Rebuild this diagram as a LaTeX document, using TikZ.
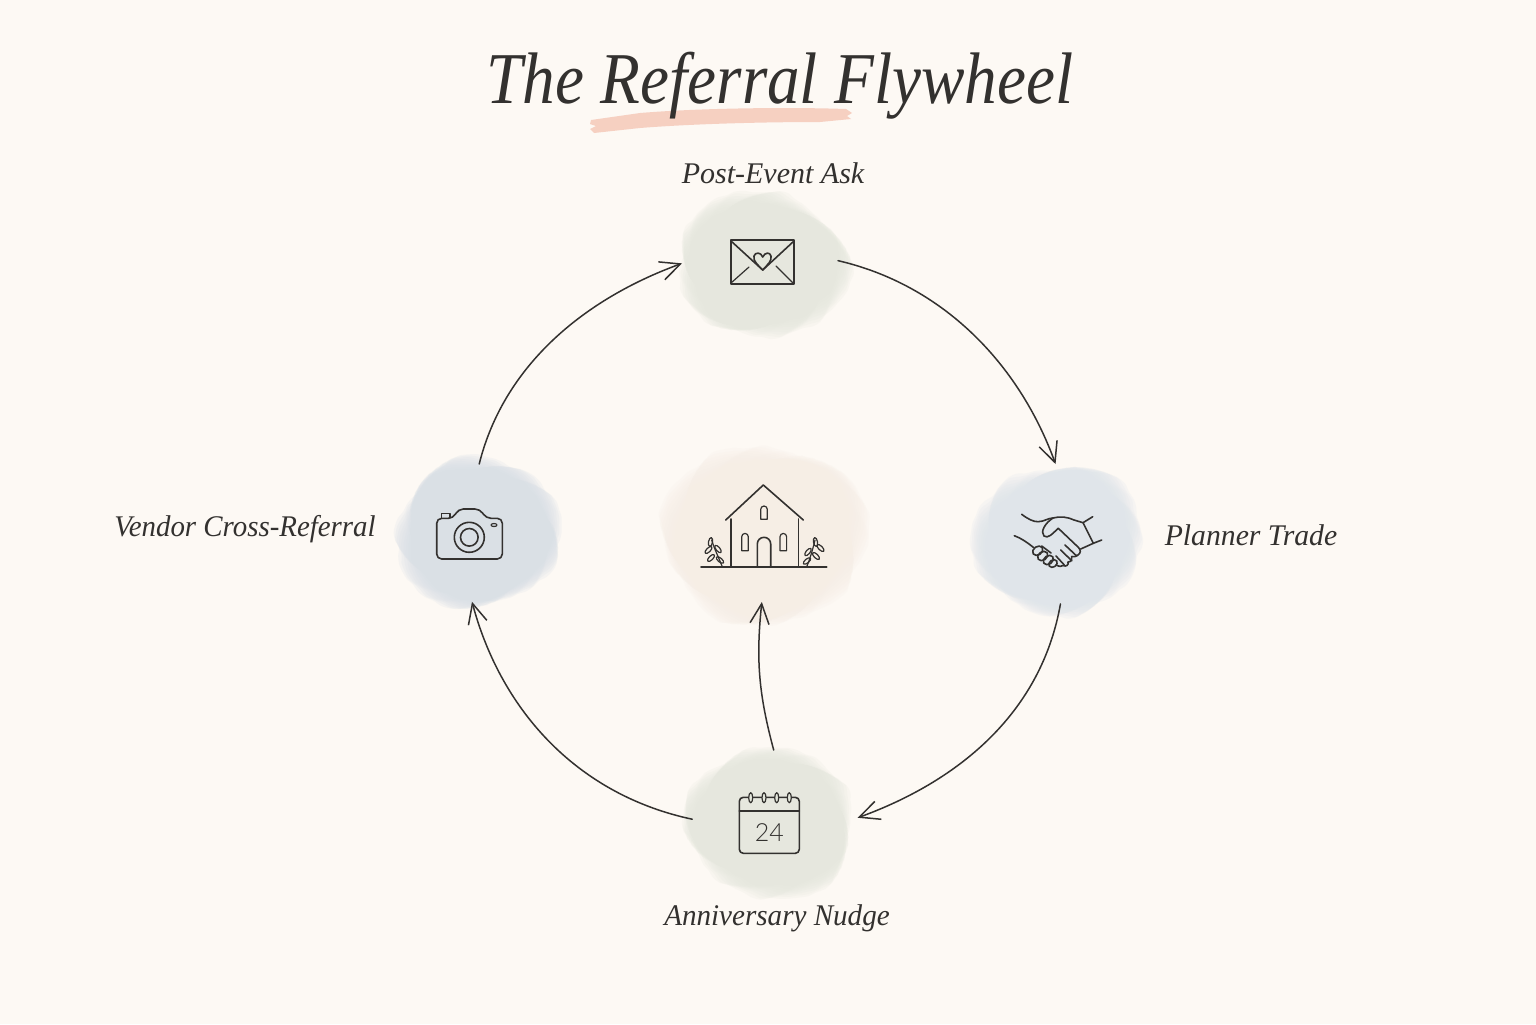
\documentclass[tikz,border=0pt]{standalone}
\usepackage{fontspec}
\usepackage{graphicx}
\setmainfont{Liberation Serif}
\newfontfamily\digitfont{Lato Light}
\usetikzlibrary{arrows.meta,shapes.geometric}
\definecolor{paper}{HTML}{FDF9F4}
\definecolor{ink}{HTML}{33312F}
\definecolor{sage}{HTML}{E4E7DC}
\definecolor{mist}{HTML}{D6DEE5}
\definecolor{mistb}{HTML}{DDE4EA}
\definecolor{blush}{HTML}{F6EEE5}
\definecolor{brush}{HTML}{F5C9B9}
\tikzset{
  declare function={wob(\t,\l,\p)=(1-.016*\l)*(1+.035*sin(2*\t+\p+\l*12)+.035*sin(3*\t+2*\p+\l*9)+.025*sin(5*\t+3*\p+\l*20)+.018*sin(9*\t+\p+\l*35)+.012*sin(14*\t+4*\p+\l*50)+.008*sin(23*\t+\l*70));},
  hub/.style={ellipse,inner sep=0pt,outer sep=0pt},
  flow/.style={draw=ink,line width=.75pt,line cap=round,-{Straight Barb[length=10pt,width=9.5pt]}},
  icon/.style={draw=ink,line width=.8pt,line cap=round,line join=round},
  fine/.style={draw=ink,line width=.6pt,line cap=round,line join=round},
  lab/.style={inner sep=0pt,anchor=base,text=ink,font=\fontsize{15}{18}\selectfont\itshape},
}
\newcommand{\wash}[6]{%
  \foreach \L in {0,...,8}{
    \fill[#5,fill opacity=.2] plot[smooth cycle,samples at={0,6,...,354},variable=\t]
      ({#1+#3*wob(\t,\L,#6)*cos(\t)},{#2+#4*wob(\t,\L,#6)*sin(\t)});
  }}
\begin{document}
\begin{tikzpicture}[x=.5pt,y=-.5pt]
\useasboundingbox (0,0) rectangle (1536,1024);
\fill[paper] (0,0) rectangle (1536,1024);
% watercolour washes
\wash{762}{265}{84}{74}{sage}{20}
\wash{1058}{540}{83}{77}{mistb}{110}
\wash{478}{533}{84}{74}{mist}{200}
\wash{770}{823}{86}{74}{sage}{300}
\wash{764}{535}{100}{92}{blush}{70}
% anchors for connectors
\node[hub,minimum width=78pt,minimum height=70pt] (ask) at (760,262) {};
\node[hub,minimum width=70pt,minimum height=70pt] (planner) at (1058,534) {};
\node[hub,minimum width=83pt,minimum height=75pt] (nudge) at (775,825) {};
\node[hub,minimum width=69pt,minimum height=69pt] (vendor) at (478,533) {};
\node[hub,minimum width=67pt,minimum height=67pt] (home) at (763,535) {};
% title underline
\fill[brush,fill opacity=.85] (591,120) -- (640,113) .. controls (700,108) and (790,107) .. (846,109)
  -- (852,113) -- (847,116) -- (851,119) -- (820,122) .. controls (760,122) and (690,124) .. (640,128)
  -- (594,133) -- (590,129) -- (596,126) -- (590,124) -- cycle;
% title
\node[inner sep=0pt,anchor=base,text=ink,font=\fontsize{36.5}{44}\selectfont\itshape] (title) at (780,103) {\scalebox{.893}[1]{The Referral Flywheel}};
% labels
\node[lab] (askl) at (773,183) {Post-Event Ask};
\node[lab] (plannerl) at (1251,545) {\scalebox{.99}[1]{Planner Trade}};
\node[lab] (vendorl) at (245,536) {\scalebox{.963}[1]{Vendor Cross-Referral}};
\node[lab] (nudgel) at (777,925) {\scalebox{.97}[1]{Anniversary Nudge}};
% envelope
\draw[icon] (731,240) rectangle (794,284);
\draw[icon] (731,241) -- (762.7,270) -- (794,241);
\draw[fine] (731,283) -- (749,267) (793,283) -- (776,266);
\draw[icon,fill=sage] (762.7,270) .. controls (757,264) and (753,261) .. (754,256)
  .. controls (755,252) and (761,252) .. (762.7,257)
  .. controls (765,252) and (770,252) .. (771,256)
  .. controls (772,261) and (768,264) .. (762.7,270) -- cycle;
% handshake
\draw[icon] (1021.7,514.3) .. controls (1028,519) and (1033,521.7) .. (1038,521.7)
  .. controls (1044,521.7) and (1048,518) .. (1053,518)
  .. controls (1060,516) and (1068,517) .. (1074,520) -- (1083,522.7) -- (1092.7,516.7);
\draw[icon] (1083,522.7) -- (1093.3,543.3) -- (1101.7,540);
\draw[icon] (1093.3,543.3) -- (1080.7,549);
\draw[icon] (1053,518) .. controls (1045,523) and (1040,532) .. (1044,536)
  .. controls (1048,539) and (1052,534) .. (1058.3,528.3)
  -- (1078.3,547.3) .. controls (1081,550) and (1081,553) .. (1078,555)
  .. controls (1076,557) and (1073,557) .. (1071.7,556.5)
  .. controls (1073,559) and (1071,562) .. (1068,562)
  .. controls (1069,565) and (1066,567) .. (1063,565.5)
  .. controls (1062,567) and (1059,566.5) .. (1056,565);
\draw[icon] (1065,545) -- (1076.7,556) (1060.7,550) -- (1071.7,560.7) (1056,556) -- (1064.3,565);
\draw[icon] (1014.3,535.7) .. controls (1021,538) and (1028,543) .. (1033.3,547.3);
\draw[icon] (1041.7,546) -- (1051,553);
\draw[icon,rotate around={35:(1037.7,550.7)}] (1037.7,550.7) ellipse (5.5 and 4.2);
\draw[icon,rotate around={35:(1042.7,556)}] (1042.7,556) ellipse (5.5 and 4.2);
\draw[icon,rotate around={35:(1048.3,560)}] (1048.3,560) ellipse (5.5 and 4.2);
\draw[icon,rotate around={35:(1053,563.5)}] (1053,563.5) ellipse (4.5 and 3.5);
% house
\draw[icon] (725.7,520) -- (763.3,485) -- (803.3,520);
\draw[icon] (730.7,519) -- (730.7,567) (798.3,519) -- (798.3,567);
\draw[icon] (701,567) -- (826.7,567);
\draw[icon] (757.3,567) -- (757.3,544) arc[start angle=180,end angle=360,radius=6.7] -- (770.7,567);
\foreach \wx/\wy/\wh in {760.7/519.3/10,741.7/550.7/14,780/550.7/14}{
  \draw[fine] (\wx,\wy) -- ++(0,-\wh) arc[start angle=180,end angle=360,radius=3.3] -- ++(0,\wh) -- cycle;
}
\draw[fine] (722,566) .. controls (718,556) and (714,548) .. (711.7,540);
\draw[fine] (807,566) .. controls (811,556) and (813,548) .. (815,540);
\foreach \lx/\ly/\la in {710.5/542/80,708.5/550/45,711/558/45,718/549/-50,720/560/-40,
                         815.5/542/100,820.5/548/135,816/556/135,808/552/230,807/561/220}{
  \draw[fine,rotate around={\la:(\lx,\ly)}] (\lx,\ly) ellipse (4.5 and 2);
}
% calendar
\draw[icon,rounded corners=2pt] (739.3,797.3) rectangle (799.3,853.3);
\draw[icon] (739.3,810.7) -- (799.3,810.7);
\foreach \rx in {750.7,764,776.7,789.3}{
  \fill[sage] (\rx,797.7) ellipse (2 and 5);
  \draw[fine] (\rx,797.7) ellipse (2 and 5);
}
\node[inner sep=0pt,text=ink,font=\fontsize{12.5}{14}\selectfont\digitfont] (date) at (769.3,832.7) {24};
% camera
\draw[icon,rounded corners=2.5pt] (436.7,559) -- (436.7,518.3) -- (453.3,518.3) -- (458.3,509) -- (480,509) -- (486,518.3) -- (502.3,518.3) -- (502.3,559) -- cycle;
\draw[fine] (441.7,518) -- (441.7,513.3) -- (450,513.3) -- (450,518);
\draw[icon] (469.3,537.3) circle (15);
\draw[icon] (469.3,537.3) circle (8.8);
\draw[fine] (494,525) ellipse (3 and 1.5);
% connectors
\draw[flow] (ask.1.5) to[out=-13,in=110,looseness=.92] (planner.92.5);
\draw[flow] (planner.-88) to[out=-100,in=20,looseness=.95] (nudge.5.5);
\draw[flow] (nudge.176.5) to[out=168,in=-75,looseness=.95] (vendor.265);
\draw[flow] (vendor.89) to[out=76,in=200,looseness=.92] (ask.181);
\draw[flow] (nudge.91) to[out=105,in=-96] (home.-91);
\end{tikzpicture}
\end{document}
